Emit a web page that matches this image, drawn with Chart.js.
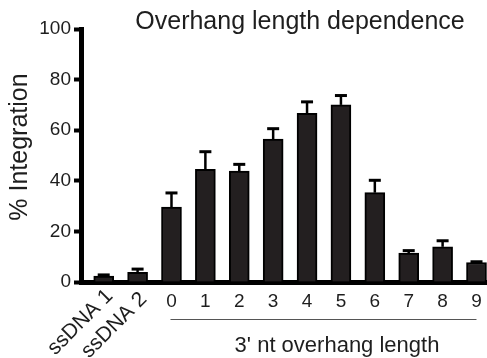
<html>
<head>
<script src="https://cdn.jsdelivr.net/npm/chart.js@4.4.0/dist/chart.umd.min.js"></script>
<style>
  body { margin: 0; background: #fff; }
</style>
</head>
<body>
<canvas id="myChart" width="487" height="358"></canvas>

<script>
    // data
    const labels = ['ssDNA 1', 'ssDNA 2', '0', '1', '2', '3', '4', '5', '6', '7', '8', '9'];
    const means = [2.3, 3.8, 29.6, 44.5, 43.8, 56.5, 66.7, 70.0, 35.3, 11.4, 13.9, 7.7];
    const errs = [0.5, 1.3, 5.6, 7.0, 2.7, 4.1, 4.5, 3.7, 4.9, 1.0, 2.4, 0.3];
    const yTicks = [0, 20, 40, 60, 80, 100];
    const rotatedCount = 2; // first two labels are slanted

    const chartTitle = 'Overhang length dependence';
    const yTitle = '% Integration';
    const groupTitle = "3' nt overhang length";

    const FONT = "'Liberation Sans', Arial, sans-serif";
    const INK = '#1e1e1e';

    const extras = {
        id: 'extras',
        afterDatasetsDraw(chart) {
            const { ctx, scales: { x, y } } = chart;
            ctx.save();
            ctx.strokeStyle = '#000';
            // error bars, upper only
            means.forEach((m, i) => {
                const px = x.getPixelForValue(i);
                const top = y.getPixelForValue(m);
                const hi = y.getPixelForValue(m + errs[i]);
                ctx.lineWidth = 2.5;
                ctx.beginPath();
                ctx.moveTo(px, top);
                ctx.lineTo(px, hi);
                ctx.stroke();
                ctx.lineWidth = 3;
                ctx.beginPath();
                ctx.moveTo(px - 6, hi);
                ctx.lineTo(px + 6, hi);
                ctx.stroke();
            });
            ctx.restore();
        },
        afterDraw(chart) {
            const { ctx, scales: { x, y } } = chart;
            ctx.save();
            ctx.fillStyle = INK;

            // x labels
            labels.forEach((lab, i) => {
                const px = x.getPixelForValue(i);
                if (i < rotatedCount) {
                    ctx.save();
                    ctx.font = '21px ' + FONT;
                    ctx.translate(px + 6, 293 + i * 3);
                    ctx.rotate(-Math.PI / 4);
                    ctx.textAlign = 'right';
                    ctx.textBaseline = 'middle';
                    ctx.fillText(lab, 0, 0);
                    ctx.restore();
                } else {
                    ctx.font = '19px ' + FONT;
                    ctx.textAlign = 'center';
                    ctx.textBaseline = 'middle';
                    ctx.fillText(lab, px, 302);
                }
            });

            // bracket line under the overhang group
            ctx.strokeStyle = '#555';
            ctx.lineWidth = 1;
            ctx.beginPath();
            ctx.moveTo(x.getPixelForValue(rotatedCount) - 1, 319.5);
            ctx.lineTo(x.getPixelForValue(labels.length - 1), 319.5);
            ctx.stroke();

            ctx.font = '22px ' + FONT;
            ctx.textAlign = 'center';
            ctx.textBaseline = 'middle';
            ctx.fillText(groupTitle, 337, 346);

            // title
            ctx.font = '25px ' + FONT;
            ctx.fillText(chartTitle, 300, 22);

            // y axis title
            ctx.save();
            ctx.translate(20, 147);
            ctx.rotate(-Math.PI / 2);
            ctx.font = '25px ' + FONT;
            ctx.fillText(yTitle, 0, 0);
            ctx.restore();

            ctx.restore();
        }
    };

    const ctx = document.getElementById('myChart').getContext('2d');
    const myChart = new Chart(ctx, {
        type: 'bar',
        data: {
            datasets: [{
                data: means.map((v, i) => ({ x: i, y: v })),
                backgroundColor: '#231f20',
                borderColor: '#000',
                borderWidth: 2,
                barThickness: 20
            }]
        },
        options: {
            responsive: false,
            animation: false,
            layout: { padding: { top: 29, right: 0, bottom: 0, left: 0 } },
            plugins: {
                legend: { display: false },
                tooltip: { enabled: false }
            },
            scales: {
                x: {
                    type: 'linear',
                    offset: false,
                    min: -0.67,
                    max: 11.31,
                    grid: { display: false },
                    ticks: { display: false },
                    border: { display: true, color: '#000', width: 5 },
                    afterFit: s => { s.height = 76; }
                },
                y: {
                    min: 0,
                    max: 100,
                    afterBuildTicks: s => { s.ticks = yTicks.map(v => ({ value: v })); },
                    ticks: { color: INK, font: { family: FONT, size: 19 }, padding: 3 },
                    grid: {
                        drawOnChartArea: false,
                        drawTicks: true,
                        tickLength: 7,
                        tickWidth: 4,
                        tickColor: '#000'
                    },
                    border: { display: true, color: '#000', width: 5 },
                    afterFit: s => { s.width = 81; }
                }
            }
        },
        plugins: [extras]
    });
</script>
</body>
</html>
